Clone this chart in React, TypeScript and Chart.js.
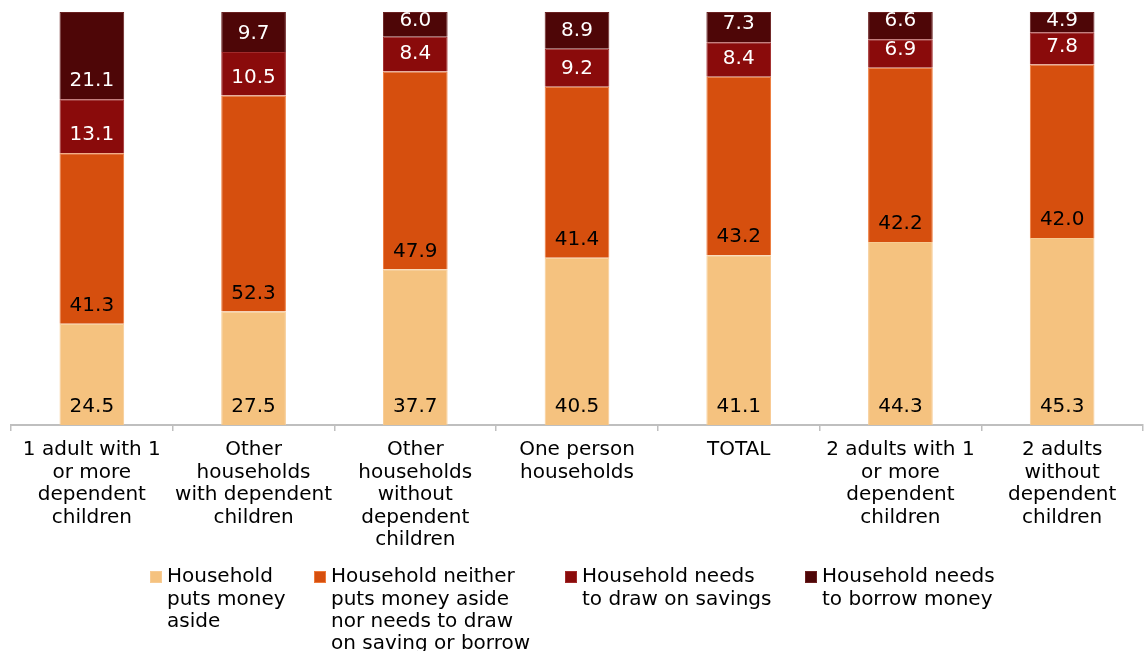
import React, { useEffect, useRef } from "react";
import { Chart, registerables } from "chart.js";

Chart.register(...registerables);

const CATEGORIES: string[][] = [
  ["1 adult with 1", "or more", "dependent", "children"],
  ["Other", "households", "with dependent", "children"],
  ["Other", "households", "without", "dependent", "children"],
  ["One person", "households"],
  ["TOTAL"],
  ["2 adults with 1", "or more", "dependent", "children"],
  ["2 adults", "without", "dependent", "children"],
];

const PUTS_ASIDE = [24.5, 27.5, 37.7, 40.5, 41.1, 44.3, 45.3];
const NEITHER = [41.3, 52.3, 47.9, 41.4, 43.2, 42.2, 42.0];
const DRAW_SAVINGS = [13.1, 10.5, 8.4, 9.2, 8.4, 6.9, 7.8];
const BORROW = [21.1, 9.7, 6.0, 8.9, 7.3, 6.6, 4.9];

const SERIES_NAMES: string[][] = [
  ["Household", "puts money", "aside"],
  ["Household neither", "puts money aside", "nor needs to draw", "on saving or borrow"],
  ["Household needs", "to draw on savings"],
  ["Household needs", "to borrow money"],
];

const COLORS = ["#F5C27F", "#D64F0E", "#8A0B0B", "#4E0607"];
const BORDERS = ["#F7CB93", "#EE7A3A", "#A02A2A", "#6A2020"];
const LABEL_COLORS = ["#000000", "#000000", "#FFFFFF", "#FFFFFF"];

const FONT = "DejaVu Sans";

const valueLabels = {
  id: "valueLabels",
  afterDatasetsDraw(chart: any) {
    const ctx = chart.ctx;
    ctx.save();
    ctx.font = `20px "${FONT}"`;
    ctx.textAlign = "center";
    ctx.textBaseline = "middle";
    chart.data.datasets.forEach((ds: any, di: number) => {
      const meta = chart.getDatasetMeta(di);
      meta.data.forEach((el: any, i: number) => {
        const v = ds.data[i];
        const top = Math.min(el.y, el.base);
        const bottom = Math.max(el.y, el.base);
        const y = Math.max(bottom - 18, top + 9);
        ctx.fillStyle = LABEL_COLORS[di];
        ctx.fillText(v.toFixed(1), el.x, y);
      });
    });
    ctx.restore();
  },
};

const legendPlugin = {
  id: "customLegend",
  afterDraw(chart: any) {
    const ctx = chart.ctx;
    const xs = [150, 314, 565, 805];
    const y0 = 571;
    ctx.save();
    ctx.font = `20px "${FONT}"`;
    ctx.textAlign = "left";
    ctx.textBaseline = "middle";
    SERIES_NAMES.forEach((lines, i) => {
      ctx.fillStyle = COLORS[i];
      ctx.fillRect(xs[i], y0, 12, 12);
      ctx.strokeStyle = BORDERS[i];
      ctx.lineWidth = 1;
      ctx.strokeRect(xs[i] + 0.5, y0 + 0.5, 11, 11);
      ctx.fillStyle = "#000000";
      lines.forEach((t, li) => {
        ctx.fillText(t, xs[i] + 17, y0 + 6 + li * 22.3);
      });
    });
    ctx.restore();
  },
};

export default function App() {
  const ref = useRef<HTMLCanvasElement | null>(null);
  useEffect(() => {
    document.body.style.margin = "0";
    if (!ref.current) return;
    const data = [PUTS_ASIDE, NEITHER, DRAW_SAVINGS, BORROW];
    const chart = new Chart(ref.current, {
      type: "bar",
      data: {
        labels: CATEGORIES,
        datasets: data.map((d, i) => ({
          label: SERIES_NAMES[i].join(" "),
          data: d,
          backgroundColor: COLORS[i],
          borderColor: BORDERS[i],
          borderWidth: 1,
          barPercentage: 0.4,
          categoryPercentage: 1,
        })),
      },
      options: {
        responsive: false,
        animation: false,
        devicePixelRatio: 1,
        layout: { padding: { left: 11, right: 2, top: 12, bottom: 0 } },
        plugins: {
          legend: { display: false },
          tooltip: { enabled: false },
        },
        scales: {
          x: {
            stacked: true,
            offset: true,
            grid: {
              offset: true,
              display: true,
              drawOnChartArea: false,
              drawTicks: true,
              tickLength: 6,
              color: "#BFBFBF",
              lineWidth: 1.5,
            },
            border: { display: true, color: "#BFBFBF", width: 2 },
            ticks: {
              color: "#000000",
              font: { family: FONT, size: 20, lineHeight: 1.12 },
              padding: 8,
              maxRotation: 0,
              minRotation: 0,
              autoSkip: false,
            },
            afterFit: (s: any) => {
              s.height = 226;
            },
          },
          y: {
            stacked: true,
            display: false,
            min: 0,
            max: 100,
          },
        },
      },
      plugins: [valueLabels, legendPlugin],
    });
    return () => chart.destroy();
  }, []);
  return (
    <div style={{ position: "absolute", left: 0, top: 0, width: 1145, height: 651, background: "#FFFFFF" }}>
      <canvas ref={ref} width={1145} height={651} />
    </div>
  );
}
